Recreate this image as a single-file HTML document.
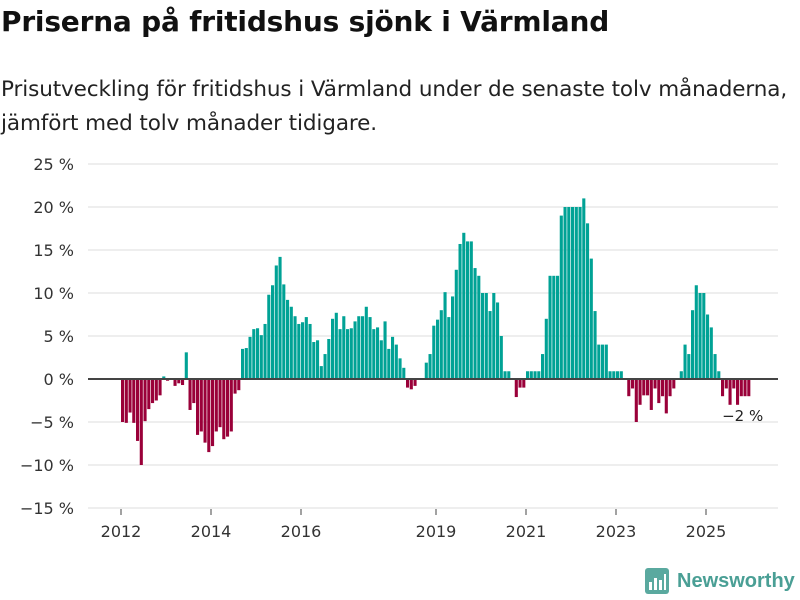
<!DOCTYPE html>
<html><head><meta charset="utf-8">
<style>
body{margin:0;width:800px;height:600px;background:#fff;font-family:"Liberation Sans","DejaVu Sans",sans-serif;overflow:hidden;position:relative}
#title{position:absolute;left:1px;top:5px;font-family:"DejaVu Sans",sans-serif;font-size:28px;font-weight:bold;color:#111;letter-spacing:-0.2px}
#sub{position:absolute;left:1px;top:73px;font-family:"DejaVu Sans",sans-serif;font-size:21.5px;line-height:34px;color:#222;letter-spacing:-0.1px;white-space:nowrap}
svg{position:absolute;left:0;top:0}
</style></head><body>
<div id="title">Priserna på fritidshus sjönk i Värmland</div>
<div id="sub">Prisutveckling för fritidshus i Värmland under de senaste tolv månaderna,<br>jämfört med tolv månader tidigare.</div>
<svg id="chart" width="800" height="600"></svg>
<script>
const values = [-5.0,-5.1,-3.9,-5.1,-7.2,-10,-4.9,-3.5,-2.8,-2.5,-1.9,0.3,-0.2,0,-0.8,-0.5,-0.7,3.1,-3.6,-2.8,-6.5,-6.1,-7.4,-8.5,-7.8,-6.1,-5.6,-7.0,-6.7,-6.1,-1.7,-1.3,
3.5,3.6,4.9,5.8,5.9,5.1,6.4,9.8,10.9,13.2,14.2,11,9.2,8.4,7.3,6.4,6.6,7.2,6.4,4.3,4.5,1.5,2.9,4.65,7.0,7.7,5.8,7.3,5.8,5.9,6.7,7.3,7.3,8.4,7.2,5.8,6.0,4.5,6.7,3.5,4.9,4.0,2.4,1.3,
-1.0,-1.2,-0.8,0,0.1,1.9,2.9,6.2,6.9,8.0,10.1,7.2,9.6,12.7,15.7,17,16,16,12.9,12,10,10,7.9,10,8.9,5.0,0.9,0.9,0,-2.1,-1.0,-1.0,0.9,0.9,0.9,0.9,2.9,7.0,
12,12,12,19,20,20,20,20,20,21,18.1,14,7.9,4,4,4,0.9,0.9,0.9,0.9,0,
-2.0,-1.1,-5.0,-3.0,-1.9,-1.9,-3.6,-1.1,-2.8,-2.0,-4.0,-2.0,-1.1,0,0.9,4.0,2.9,8.0,10.9,10,10,7.5,6.0,2.9,0.9,-2.0,-1.1,-3.0,-1.1,-3.0,-2.0,-2.0,-2.0];
const yTicks = [25,20,15,10,5,0,-5,-10,-15];
const yTickLabels = ["25 %","20 %","15 %","10 %","5 %","0 %","−5 %","−10 %","−15 %"];
const xTickYears = [2012,2014,2016,2019,2021,2023,2025];
const lastLabel = "−2 %";

const svg = document.getElementById('chart');
const NS = 'http://www.w3.org/2000/svg';
const y = v => 379 - v * 8.6;
const x = i => 121 + i * 3.75;
const yearX = yr => x((yr - 2012) * 12);
function mk(tag, attrs){const e=document.createElementNS(NS,tag);for(const k in attrs)e.setAttribute(k,attrs[k]);svg.appendChild(e);return e;}

yTicks.forEach((t,k)=>{
  if(t!==0){const g=mk('line',{x1:88,x2:778,y1:y(t),y2:y(t),stroke:'#ddd','stroke-width':1});
  
  }
  const tx=mk('text',{x:74,y:y(t)+6,'text-anchor':'end','font-size':16,fill:'#333','font-family':'DejaVu Sans, sans-serif'});
  tx.textContent=yTickLabels[k];
  
  
});
values.forEach((v,i)=>{
  if(v===0)return;
  const r=mk('rect',{x:x(i),width:3.1,y:Math.min(y(v),y(0)),height:Math.abs(y(v)-y(0)),fill:v>0?'#00a295':'#9a0039'});
  
  
});
const z=mk('line',{x1:88,x2:778,y1:y(0),y2:y(0),stroke:'#444','stroke-width':2});


xTickYears.forEach(yr=>{
  const l=mk('line',{x1:yearX(yr),x2:yearX(yr),y1:509,y2:515,stroke:'#444','stroke-width':1});
  
  
  const t=mk('text',{x:yearX(yr),y:537,'text-anchor':'middle','font-size':16,fill:'#333','font-family':'DejaVu Sans, sans-serif'});
  t.textContent=yr;
  
  
});
const li=values.length-1;
const lb=mk('text',{x:x(li)+16,y:y(values[li])+25,'text-anchor':'end','font-size':15,fill:'#222','font-family':'DejaVu Sans, sans-serif'});
lb.textContent=lastLabel;


</script>
<div style="position:absolute;left:645px;top:568px;display:flex;align-items:center">
  <svg width="24" height="26" style="position:static"><rect x="0" y="0" width="24" height="26" rx="3" fill="#5aa99f"/><rect x="4" y="14" width="3" height="8" fill="#fff"/><rect x="9" y="10" width="3" height="12" fill="#fff"/><rect x="14" y="12" width="3" height="10" fill="#fff"/><rect x="19" y="6" width="2" height="16" fill="#fff"/></svg>
  <span style="font-size:20px;font-weight:bold;color:#4a9f95;margin-left:8px">Newsworthy</span>
</div>
</body></html>
